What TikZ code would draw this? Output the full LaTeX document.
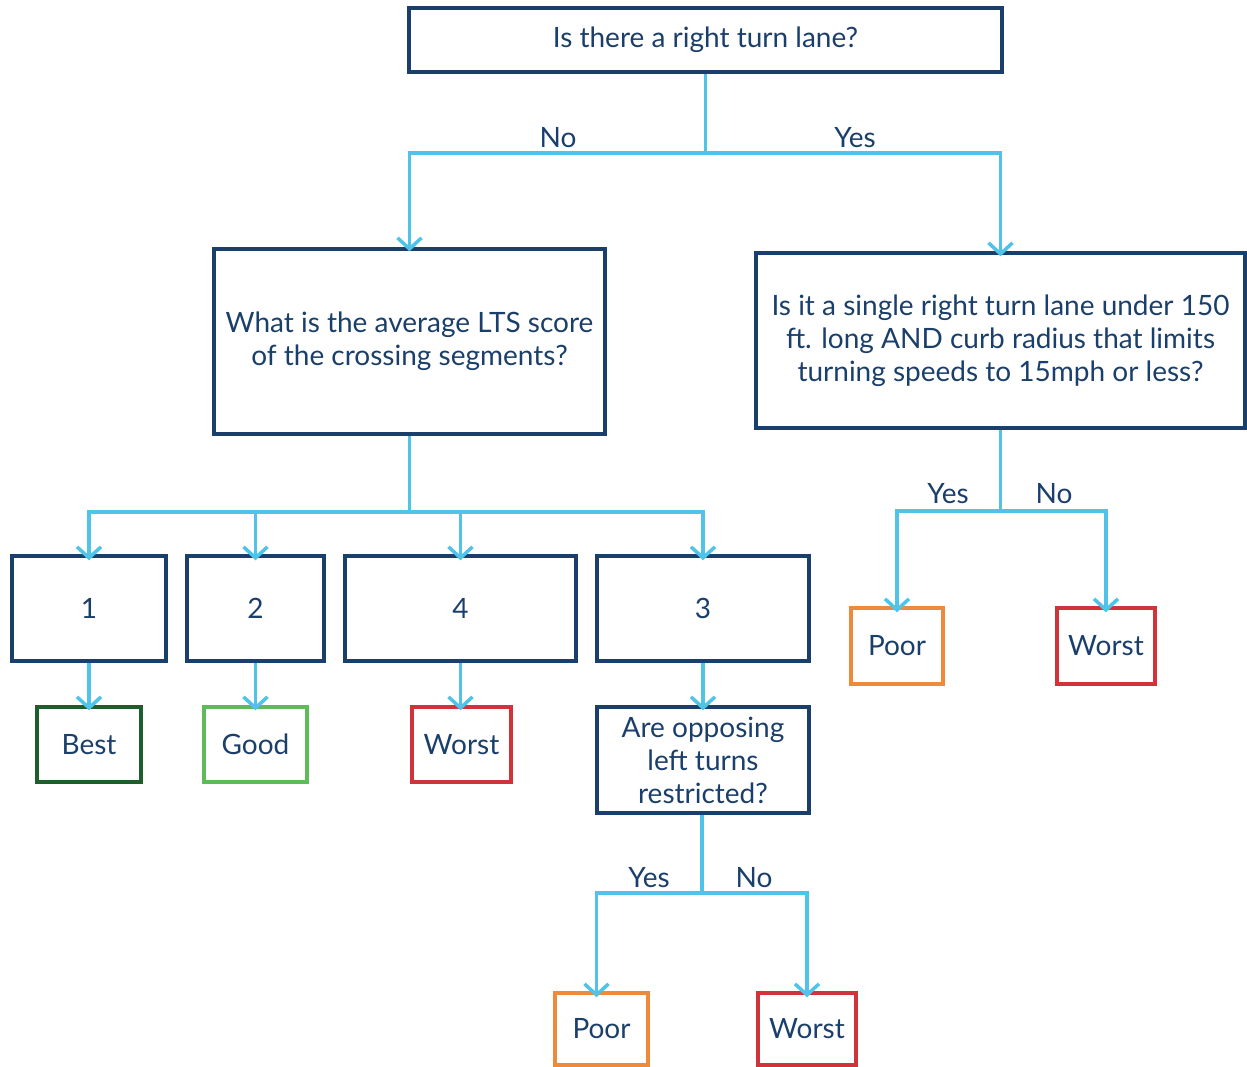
\documentclass[tikz,border=0pt]{standalone}
\usepackage{fontspec}
\setmainfont{Lato}
\usetikzlibrary{arrows.meta}
\definecolor{navy}{HTML}{1B3F6B}
\definecolor{cyanl}{HTML}{4FC3E8}
\definecolor{dgreen}{HTML}{1E5E2A}
\definecolor{lgreen}{HTML}{5DBB5A}
\definecolor{redc}{HTML}{D0343A}
\definecolor{orangec}{HTML}{EE8A3C}
\tikzset{
  box/.style={draw=navy, line width=3.5pt, rectangle, inner sep=0pt, align=center, text=navy, font=\fontsize{28}{33}\selectfont},
  lbl/.style={text=navy, font=\fontsize{28}{33}\selectfont, inner sep=0pt},
  arr/.style={draw=cyanl, line width=3.5pt, -{Straight Barb[length=11pt,width=24pt,line width=3.5pt]}},
  ln/.style={draw=cyanl, line width=3.5pt}
}
\begin{document}
\begin{tikzpicture}[x=1pt,y=-1pt]
\useasboundingbox (0,0) rectangle (1247,1067);
\node[box, minimum width=593pt, minimum height=64pt] (top) at (705.5,40) {Is there a right turn lane?};
\node[box, minimum width=391pt, minimum height=185pt] (L) at (409.5,341.5) {What is the average LTS score\\of the crossing segments?};
\node[box, minimum width=489pt, minimum height=175pt] (R) at (1000.5,340.5) {Is it a single right turn lane under 150\\ft. long AND curb radius that limits\\turning speeds to 15mph or less?};
\node[box, minimum width=154pt, minimum height=105pt] (n1) at (89,608.5) {1};
\node[box, minimum width=137pt, minimum height=105pt] (n2) at (255.5,608.5) {2};
\node[box, minimum width=231pt, minimum height=105pt] (n4) at (460.5,608.5) {4};
\node[box, minimum width=212pt, minimum height=105pt] (n3) at (703,608.5) {3};
\node[box, draw=dgreen, minimum width=104pt, minimum height=75pt] (best) at (89,744.5) {Best};
\node[box, draw=lgreen, minimum width=103pt, minimum height=75pt] (good) at (255.5,744.5) {Good};
\node[box, draw=redc, minimum width=99pt, minimum height=75pt] (worstA) at (461.5,744.5) {Worst};
\node[box, minimum width=212pt, minimum height=106pt] (q3) at (703,760) {Are opposing\\left turns\\restricted?};
\node[box, draw=orangec, minimum width=93pt, minimum height=72pt] (poorB) at (601.5,1029) {Poor};
\node[box, draw=redc, minimum width=98pt, minimum height=72pt] (worstB) at (807,1029) {Worst};
\node[box, draw=orangec, minimum width=92pt, minimum height=76pt] (poorC) at (897,646) {Poor};
\node[box, draw=redc, minimum width=98pt, minimum height=76pt] (worstC) at (1106,646) {Worst};
% labels
\node[lbl] (no1) at (558,138) {No};
\node[lbl] (yes1) at (855,138) {Yes};
\node[lbl] (yes2) at (948,494) {Yes};
\node[lbl] (no2) at (1054,494) {No};
\node[lbl] (yes3) at (649,878) {Yes};
\node[lbl] (no3) at (754,878) {No};
% junctions
\coordinate (j1) at (705.5,153);
\coordinate (j2) at (409.5,512);
\coordinate (j3) at (1000.5,511);
\coordinate (j4) at (702,893);
% connectors
\draw[arr] (top.south) -- (j1) -| ([yshift=-4pt]L.north);
\draw[arr] (j1) -| ([yshift=-5pt]R.north);
\draw[ln] (L.south) -- (j2);
\draw[arr] (j2) -| ([yshift=-6pt]n1.north);
\draw[arr] (j2) -| ([yshift=-6pt]n2.north);
\draw[arr] (j2) -| ([yshift=-6pt]n4.north);
\draw[arr] (j2) -| ([yshift=-6pt]n3.north);
\draw[arr] (n1.south) -- ([yshift=-5pt]best.north);
\draw[arr] (n2.south) -- ([yshift=-5pt]good.north);
\draw[arr] (n4.south) -- ([yshift=-5pt]worstA.north -| n4.south);
\draw[arr] (n3.south) -- ([yshift=-5pt]q3.north);
\draw[ln] (R.south) -- (j3);
\draw[arr] (j3) -| ([yshift=-6pt]poorC.north);
\draw[arr] (j3) -| ([yshift=-6pt]worstC.north);
\draw[ln] (q3.south -| j4) -- (j4);
\draw[arr] (j4) -| ([yshift=-6pt,xshift=-5pt]poorB.north);
\draw[arr] (j4) -| ([yshift=-6pt]worstB.north);
\end{tikzpicture}
\end{document}
